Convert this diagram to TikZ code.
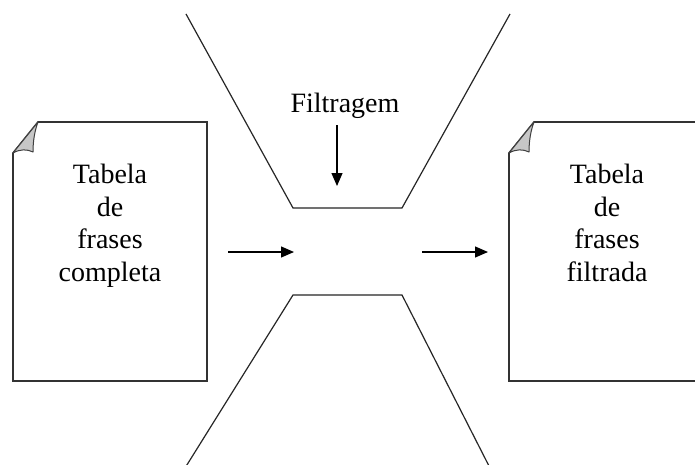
\documentclass[tikz,border=0pt]{standalone}
\usepackage{fontspec}
\setmainfont{Liberation Serif}
\usetikzlibrary{arrows.meta}
\begin{document}
\begin{tikzpicture}[x=1pt,y=-1pt,
 docline/.style={draw=black!80, line width=1.6pt, line join=miter},
 flap/.style={fill=black!22, draw=black!75, line width=1pt, line join=round},
 funnel/.style={draw=black!85, line width=1.2pt},
 flow/.style={draw=black, line width=1.2pt, -{Triangle[length=13pt,width=11pt]}},
 lbl/.style={font=\fontsize{28}{32.5}\selectfont, align=center, inner sep=0pt}]
\useasboundingbox (0,0) rectangle (695,465);
\clip (0,0) rectangle (695,465);
\fill[white] (0,0) rectangle (695,465);
% left document
\draw[docline] (38,122) -- (207,122) -- (207,381) -- (13,381) -- (13,153) -- cycle;
\filldraw[flap] (38,122) -- (13,153) .. controls (20,149) and (27,149) .. (33,152) .. controls (33,140) and (35,130) .. (38,122) -- cycle;
\node[lbl, anchor=north] (tleft) at (110,164) {Tabela\\de\\frases\\completa};
% right document
\draw[docline] (534,122) -- (712,122) -- (712,381) -- (509,381) -- (509,153) -- cycle;
\filldraw[flap] (534,122) -- (509,153) .. controls (516,149) and (523,149) .. (529,152) .. controls (529,140) and (531,130) .. (534,122) -- cycle;
\node[lbl, anchor=north] (tright) at (607,164) {Tabela\\de\\frases\\filtrada};
% funnel
\draw[funnel] (186,14) -- (293,208) -- (402,208) -- (510,14);
\draw[funnel] (185,468) -- (293,295) -- (402,295) -- (490,468);
% filter label
\node[lbl, anchor=base] (filt) at (345,113) {Filtragem};
\coordinate (fe) at (337,186);
\draw[flow] (filt.south -| fe) ++(0,6) -- (fe);
% flow arrows
\coordinate (a1s) at (228,252);
\coordinate (a1e) at (294,252);
\coordinate (a2s) at (422,252);
\coordinate (a2e) at (488,252);
\draw[flow] (a1s) -- (a1e);
\draw[flow] (a2s) -- (a2e);
\end{tikzpicture}
\end{document}
